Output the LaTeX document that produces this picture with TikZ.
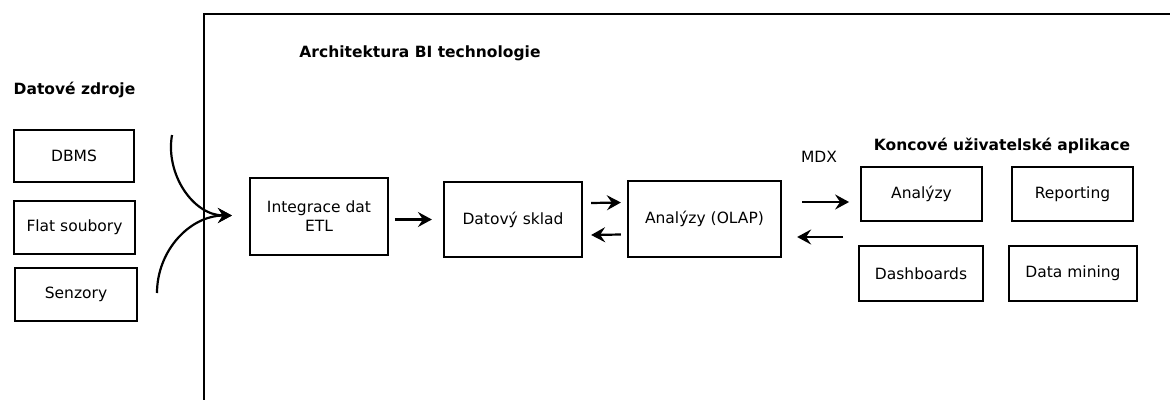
\documentclass[tikz,border=0pt]{standalone}
\usepackage{fontspec}
\setmainfont{DejaVu Sans}
\usepackage{tikz}
\usetikzlibrary{arrows.meta}
\definecolor{bline}{HTML}{000000}

\tikzset{
  box/.style={draw=bline,line width=2.2pt,align=center,inner sep=0pt,
    font=\fontsize{15.5}{19}\selectfont},
  heading/.style={font=\fontsize{15.5}{19}\selectfont\bfseries},
  plain/.style={font=\fontsize{15.5}{19}\selectfont},
  flow/.style={bline,line width=2.2pt,-{Stealth[length=14pt,width=15pt,inset=5pt]}},
}

\begin{document}
\begin{tikzpicture}[x=1pt,y=-1pt]
  \useasboundingbox (0,0) rectangle (1170,399);
  \draw[bline,line width=2.2pt] (204,420) -- (204,14) -- (1190,14);

  \node[heading] (zdroje) at (74.5,90) {Datové zdroje};
  \node[heading] (arch) at (420,53) {Architektura BI technologie};
  \node[heading] (koncove) at (1002,146) {Koncové uživatelské aplikace};
  \node[plain] (mdx) at (819,157) {MDX};

  \node[box,minimum width=120,minimum height=52] (dbms) at (74,156) {DBMS};
  \node[box,minimum width=121,minimum height=53] (flat) at (74.5,227.5) {Flat soubory};
  \node[box,minimum width=122,minimum height=53] (senz) at (76,294.5) {Senzory};

  \node[box,minimum width=138,minimum height=77] (etl) at (319,216.5) {Integrace dat\\ETL};
  \node[box,minimum width=138,minimum height=75] (sklad) at (513,219.5) {Datový sklad};
  \node[box,minimum width=153,minimum height=76] (olap) at (704.5,219) {Analýzy (OLAP)};

  \node[box,minimum width=121,minimum height=54] (analyzy) at (921.5,194) {Analýzy};
  \node[box,minimum width=121,minimum height=54] (report) at (1072.5,194) {Reporting};
  \node[box,minimum width=124,minimum height=55] (dash) at (921,273.5) {Dashboards};
  \node[box,minimum width=128,minimum height=55] (mining) at (1073,273.5) {Data mining};

  \coordinate (srctop) at (172,135);
  \coordinate (srcbot) at (157,293);
  \coordinate (merge) at ([shift={(-17,-1)}]etl.west);

  \draw[flow] (srctop) to[out=-100,in=180] (merge);
  \draw[flow] (srcbot) to[out=90,in=180] (merge);

  \draw[flow] ([shift={(-48,0)}]sklad.west) -- ([shift={(-11,0)}]sklad.west);
  \draw[flow] ([shift={(8,-16.5)}]sklad.east) -- ([shift={(-6,-16.5)}]olap.west);
  \draw[flow] ([shift={(-6,15.5)}]olap.west) -- ([shift={(8,15.5)}]sklad.east);
  \draw[flow] ([shift={(20,-17)}]olap.east) -- ([shift={(67,-17)}]olap.east);
  \draw[flow] ([shift={(61,18)}]olap.east) -- ([shift={(15,18)}]olap.east);
\end{tikzpicture}
\end{document}
